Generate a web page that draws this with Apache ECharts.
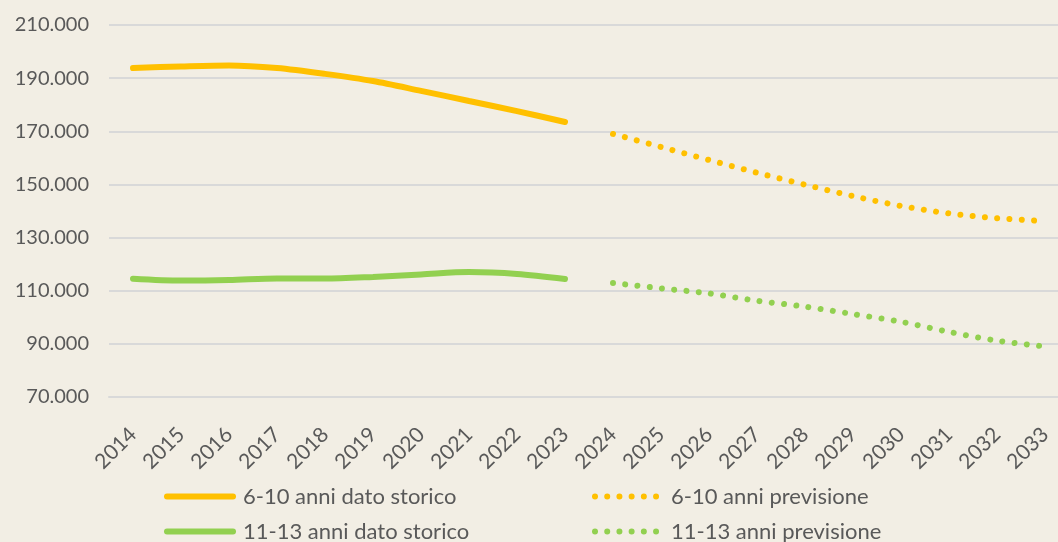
<!DOCTYPE html>
<html>
<head>
<meta charset="utf-8">
<script src="https://cdn.jsdelivr.net/npm/echarts@6/dist/echarts.min.js"></script>
<style>
  html, body { margin: 0; padding: 0; background: #F2EEE4; }
  #chart { width: 1058px; height: 542px; }
</style>
</head>
<body>
<div id="chart"></div>
<script>
// anni
var years = ['2014', '2015', '2016', '2017', '2018', '2019', '2020', '2021', '2022', '2023',
             '2024', '2025', '2026', '2027', '2028', '2029', '2030', '2031', '2032', '2033'];

// 6-10 anni (valori in migliaia)
var storico610 = [193.8, 194.4, 194.8, 193.8, 191.6, 188.9, 185.2, 181.4, 177.6, 173.5,
                  null, null, null, null, null, null, null, null, null, null];
var previsione610 = [null, null, null, null, null, null, null, null, null, null,
                     169.0, 164.1, 159.2, 154.4, 149.9, 145.6, 141.9, 139.1, 137.3, 136.2];

// 11-13 anni
var storico1113 = [114.5, 113.8, 114.0, 114.6, 114.6, 115.2, 116.1, 117.0, 116.3, 114.4,
                   null, null, null, null, null, null, null, null, null, null];
var previsione1113 = [null, null, null, null, null, null, null, null, null, null,
                      112.9, 110.9, 109.0, 106.2, 104.0, 101.2, 98.3, 94.5, 91.2, 89.0];

var seriesNames = ['6-10 anni dato storico', '6-10 anni previsione',
                   '11-13 anni dato storico', '11-13 anni previsione'];

var GIALLO = '#FFC000';
var VERDE = '#92D050';
var TESTO = '#595959';
var FONT = 'Lato';

function toUnits(arr) {
    return arr.map(function (v) { return v == null ? null : v * 1000; });
}

var solid = { width: 6, cap: 'round' };
var dots = { width: 6, type: [0.01, 12.3], cap: 'round', dashOffset: 0 };
var legendDots = { width: 6, type: [0.01, 12.2], cap: 'round', dashOffset: 0 };

function legendItem(name, color, ls) {
    return {
        name: name,
        itemStyle: { opacity: 0 },
        lineStyle: Object.assign({ color: color }, ls)
    };
}

var chart = echarts.init(document.getElementById('chart'));
chart.setOption({
    backgroundColor: '#F2EEE4',
    animation: false,
    textStyle: { fontFamily: FONT, color: TESTO },
    grid: { left: 109, right: -11, top: 25, bottom: 145, outerBoundsMode: 'none' },
    legend: {
        data: [
            legendItem(seriesNames[0], GIALLO, solid),
            legendItem(seriesNames[1], GIALLO, legendDots),
            legendItem(seriesNames[2], VERDE, solid),
            legendItem(seriesNames[3], VERDE, legendDots)
        ],
        orient: 'horizontal',
        left: 159, top: 479, width: 880,
        itemWidth: 66, itemHeight: 6, itemGap: 10,
        textStyle: {
            fontFamily: FONT, fontSize: 22, color: TESTO,
            lineHeight: 25, width: 339, overflow: 'none', padding: [0, 0, 0, 5]
        }
    },
    xAxis: {
        type: 'category',
        data: years,
        boundaryGap: true,
        axisLine: { lineStyle: { color: '#D9D9D9', width: 2 } },
        axisTick: { show: false },
        axisLabel: { rotate: 45, fontSize: 21, color: TESTO, margin: 34, fontFamily: FONT }
    },
    yAxis: {
        type: 'value',
        min: 70000, max: 210000, interval: 20000,
        axisLine: { show: false },
        axisTick: { show: false },
        splitLine: { lineStyle: { color: '#D9D9D9', width: 2 } },
        axisLabel: {
            fontSize: 20, color: TESTO, margin: 20, fontFamily: FONT,
            formatter: function (v) { return (v / 1000).toFixed(0) + '.000'; }
        }
    },
    series: [
        {
            name: seriesNames[0], type: 'line', data: toUnits(storico610),
            smooth: 0.3, symbol: 'none', color: GIALLO, lineStyle: solid
        },
        {
            name: seriesNames[1], type: 'line', data: toUnits(previsione610),
            smooth: 0.3, symbol: 'none', color: GIALLO, lineStyle: dots
        },
        {
            name: seriesNames[2], type: 'line', data: toUnits(storico1113),
            smooth: 0.3, symbol: 'none', color: VERDE, lineStyle: solid
        },
        {
            name: seriesNames[3], type: 'line', data: toUnits(previsione1113),
            smooth: 0.3, symbol: 'none', color: VERDE, lineStyle: dots
        }
    ]
});
</script>
</body>
</html>
